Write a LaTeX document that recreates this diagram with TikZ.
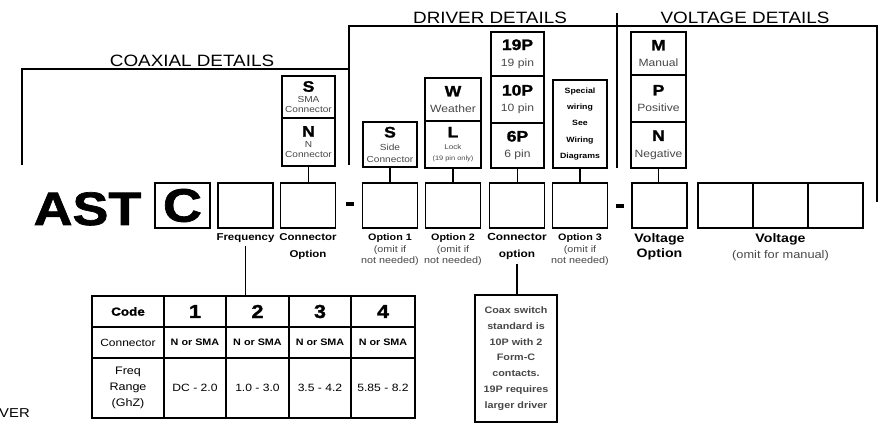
\documentclass[tikz,border=0pt]{standalone}
\usepackage{fontspec}
\setmainfont{Liberation Sans}[FakeStretch=1.15]
\newfontfamily\heavyfont{Liberation Sans}[FakeStretch=1.15, BoldFeatures={FakeBold=1.5}]
\usetikzlibrary{positioning}
\newcommand\fsz[2]{\fontsize{#1}{#2}\selectfont}
\newcommand\keyl[1]{{\color{black}\heavyfont\bfseries\fsz{13}{13}#1}}
\colorlet{subgrey}{black!72}
\tikzset{
  slot/.style    = {draw, line width=1.2pt, minimum width=1.65cm, minimum height=1.35cm, inner sep=0pt},
  cell/.style    = {draw, line width=1.2pt, inner sep=0pt, align=center, minimum width=1.62cm, text=subgrey},
  stem/.style    = {line width=1pt},
  bracket/.style = {line width=1pt},
  hdr/.style     = {font=\fsz{14}{14}, anchor=south, inner sep=0pt},
  lbl/.style     = {font=\fsz{8}{10}, align=center, inner sep=0pt, text=subgrey},
  blbl/.style    = {lbl, text=black},
  tcell/.style   = {draw, line width=1pt, inner sep=0pt, align=center},
  hyph/.style    = {fill=black, minimum width=0.25cm, minimum height=0.11cm, inner sep=0pt},
}
\begin{document}
\begin{tikzpicture}[x=0.03cm, y=-0.03cm]
  \useasboundingbox (0,0) rectangle (883,425);
  % section brackets
  \draw[bracket] (22,165) |- (349,69);
  \draw[bracket] (349,165) |- (877,26) -- (877,202);
  \draw[bracket] (617,13) -- (617,168);
  \node[hdr] (hcoax) at (192,67) {COAXIAL DETAILS};
  \node[hdr] (hdrv) at (490,24) {DRIVER DETAILS};
  \node[hdr] (hvolt) at (745,24) {VOLTAGE DETAILS};

  % part number
  \node[font=\heavyfont\bfseries\fsz{40}{40}, anchor=base, inner sep=0pt] (ast) at (87.5,225) {AST};
  \node[slot, font=\heavyfont\bfseries\fsz{40}{40}] (cc) at (182.5,205.5) {C};
  \node[slot] (frq) at (245.5,205.5) {};
  \node[slot] (con) at (308,205.5) {};
  \node[hyph] (hy1) at (350,204) {};
  \node[slot] (op1) at (390,205.5) {};
  \node[slot] (op2) at (453,205.5) {};
  \node[slot] (cnt) at (517,205.5) {};
  \node[slot] (op3) at (580,205.5) {};
  \node[hyph] (hy2) at (620,206) {};
  \node[slot] (vop) at (659.5,205.5) {};
  \node[slot] (v1) at (725.5,205.5) {};
  \node[slot] (v2) at (780.5,205.5) {};
  \node[slot] (v3) at (835.5,205.5) {};

  % option boxes
  \node[cell, minimum width=1.59cm, minimum height=1.26cm, font=\fsz{7.5}{8.5}] (sn1) at (308.5,97) {\keyl{S}\\[1pt]SMA\\Connector};
  \node[cell, minimum width=1.59cm, minimum height=1.44cm, font=\fsz{7.5}{8.5}] (sn2) at (308.5,142) {\keyl{N}\\[1pt]N\\Connector};
  \node[cell, minimum height=1.35cm, font=\fsz{7.5}{10}] (sd) at (390,144.5) {\keyl{S}\\[1pt]Side\\Connector};
  \node[cell, minimum width=1.68cm, minimum height=1.29cm, font=\fsz{9}{9}] (wl1) at (453,99.5) {\keyl{W}\\[5pt]Weather};
  \node[cell, minimum width=1.68cm, minimum height=1.41cm, font=\fsz{5.5}{9.5}] (wl2) at (453,144.5) {\keyl{L}\\[1pt]{\fsz{6}{9.5}Lock}\\(19 pin only)};
  \node[cell, minimum width=1.59cm, minimum height=1.32cm, font=\fsz{9}{9}] (pn1) at (517.5,54) {\keyl{19P}\\[5pt]19 pin};
  \node[cell, minimum width=1.59cm, minimum height=1.41cm, font=\fsz{9}{9}] (pn2) at (517.5,99.5) {\keyl{10P}\\[5pt]10 pin};
  \node[cell, minimum width=1.59cm, minimum height=1.35cm, font=\fsz{9}{9}] (pn3) at (517.5,145.5) {\keyl{6P}\\[5pt]6 pin};
  \node[cell, minimum height=2.64cm, font=\bfseries\fsz{6.5}{14}, text=black] (sw) at (580,124) {Special\\wiring\\See\\Wiring\\Diagrams};
  \node[cell, minimum width=1.65cm, minimum height=1.29cm, font=\fsz{9}{9}] (vm) at (658.5,53.5) {\keyl{M}\\[5pt]Manual};
  \node[cell, minimum width=1.65cm, minimum height=1.41cm, font=\fsz{9}{9}] (vp) at (658.5,98.5) {\keyl{P}\\[5pt]Positive};
  \node[cell, minimum width=1.65cm, minimum height=1.38cm, font=\fsz{9}{9}] (vn) at (658.5,145) {\keyl{N}\\[5pt]Negative};

  \draw[stem] (sn2.south) -- (sn2.south |- con.north);
  \draw[stem] (sd.south) -- (sd.south |- op1.north);
  \draw[stem] (wl2.south) -- (wl2.south |- op2.north);
  \draw[stem] (pn3.south) -- (pn3.south |- cnt.north);
  \draw[stem] (sw.south) -- (sw.south |- op3.north);
  \draw[stem] (vn.south) -- (vn.south |- vop.north);

  % slot labels
  \node[blbl, font=\bfseries\fsz{8.5}{14.5}, below=4pt of frq] (frqlbl) {Frequency};
  \node[blbl, font=\bfseries\fsz{8.5}{14.5}, below=4pt of con] (conlbl) {Connector\\Option};
  \node[lbl, below=4pt of op1] (op1lbl) {\textcolor{black}{\bfseries Option 1}\\(omit if\\not needed)};
  \node[lbl, below=4pt of op2] (op2lbl) {\textcolor{black}{\bfseries Option 2}\\(omit if\\not needed)};
  \node[blbl, font=\bfseries\fsz{8.8}{14.5}, below=4pt of cnt] (cntlbl) {Connector\\option};
  \node[lbl, below=4pt of op3] (op3lbl) {\textcolor{black}{\bfseries Option 3}\\(omit if\\not needed)};
  \node[blbl, font=\bfseries\fsz{10.5}{13}, below=4pt of vop] (voplbl) {Voltage\\Option};
  \node[lbl, font=\fsz{9.5}{13.5}, below=4pt of v2] (vlbl) {\textcolor{black}{\bfseries\fsz{10.5}{13.5}Voltage}\\(omit for manual)};

  % frequency table
  \node[draw, line width=1.3pt, minimum width=9.69cm, minimum height=3.66cm, inner sep=0pt] (ftab) at (253.5,357) {};
  \node[tcell, minimum width=2.16cm, minimum height=0.93cm, font=\heavyfont\bfseries\fsz{10}{10}] (tcode) at (128,311.5) {Code};
  \node[tcell, minimum width=1.86cm, minimum height=0.93cm, font=\heavyfont\bfseries\fsz{16}{16}] (tc1) at (195,311.5) {1};
  \node[tcell, minimum width=1.89cm, minimum height=0.93cm, font=\heavyfont\bfseries\fsz{16}{16}] (tc2) at (257.5,311.5) {2};
  \node[tcell, minimum width=1.86cm, minimum height=0.93cm, font=\heavyfont\bfseries\fsz{16}{16}] (tc3) at (320,311.5) {3};
  \node[tcell, minimum width=1.92cm, minimum height=0.93cm, font=\heavyfont\bfseries\fsz{16}{16}] (tc4) at (383,311.5) {4};
  \node[tcell, minimum width=2.16cm, minimum height=0.93cm, font=\fsz{8.9}{10}] (tconn) at (128,342.5) {Connector};
  \node[tcell, minimum width=1.86cm, minimum height=0.93cm, font=\bfseries\fsz{8}{10}] (tn1) at (195,342.5) {N or SMA};
  \node[tcell, minimum width=1.89cm, minimum height=0.93cm, font=\bfseries\fsz{8}{10}] (tn2) at (257.5,342.5) {N or SMA};
  \node[tcell, minimum width=1.86cm, minimum height=0.93cm, font=\bfseries\fsz{8}{10}] (tn3) at (320,342.5) {N or SMA};
  \node[tcell, minimum width=1.92cm, minimum height=0.93cm, font=\bfseries\fsz{8}{10}] (tn4) at (383,342.5) {N or SMA};
  \node[tcell, minimum width=2.16cm, minimum height=1.8cm, font=\fsz{9.3}{13.5}] (tfreq) at (128,388) {Freq\\Range\\(GhZ)};
  \node[tcell, minimum width=1.86cm, minimum height=1.8cm, font=\fsz{9}{10}] (tf1) at (195,388) {DC - 2.0};
  \node[tcell, minimum width=1.89cm, minimum height=1.8cm, font=\fsz{9}{10}] (tf2) at (257.5,388) {1.0 - 3.0};
  \node[tcell, minimum width=1.86cm, minimum height=1.8cm, font=\fsz{9}{10}] (tf3) at (320,388) {3.5 - 4.2};
  \node[tcell, minimum width=1.92cm, minimum height=1.8cm, font=\fsz{9}{10}] (tf4) at (383,388) {5.85 - 8.2};
  \draw[stem, shorten <=3pt] (frqlbl.south) -- (frqlbl.south |- ftab.north);

  % connector note
  \node[draw, line width=1.2pt, minimum width=2.46cm, minimum height=3.81cm, inner sep=0pt, align=center,
        font=\bfseries\fsz{8}{13.4}, text=subgrey] (cnote) at (516,358.5)
        {Coax switch\\standard is\\10P with 2\\Form-C\\contacts.\\19P requires\\larger driver};
  \draw[stem, shorten <=3pt] (cntlbl.south) -- (cntlbl.south |- cnote.north);

  \node[font=\fsz{11}{11}, anchor=base west, inner sep=0pt] (ver) at (-1,417) {VER};
\end{tikzpicture}
\end{document}
